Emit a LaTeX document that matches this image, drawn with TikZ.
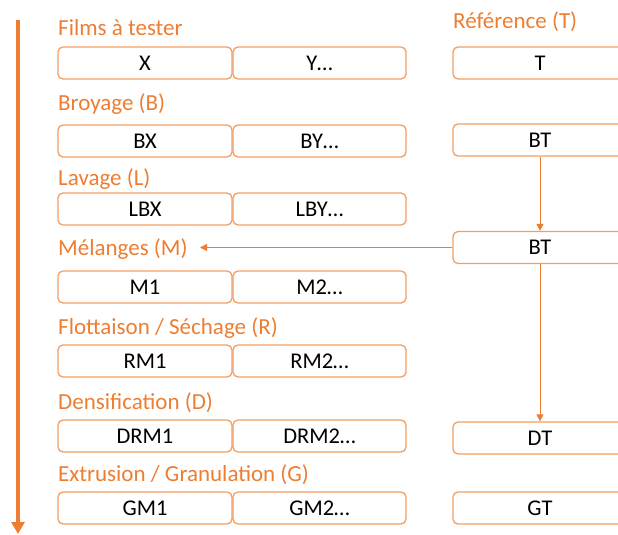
\documentclass[tikz,border=0pt]{standalone}
\usepackage{fontspec}
\setmainfont{Carlito}
\usetikzlibrary{arrows.meta}
\definecolor{org}{HTML}{ED7D31}
\definecolor{orgl}{HTML}{F29E63}
\tikzset{
  box/.style={draw=orgl, line width=1.3pt, rounded corners=5pt, minimum height=32pt, inner sep=0pt, font=\fontsize{22.5}{26}\selectfont, text=black},
  lbox/.style={box, minimum width=174pt},
  title/.style={anchor=base west, inner sep=0pt, text=org, font=\fontsize{23}{27}\selectfont},
  conn/.style={draw=org, line width=1pt, -{Triangle[width=7pt,length=7pt]}},
}
\begin{document}
\begin{tikzpicture}[x=1pt,y=-1pt]
\useasboundingbox (0,0) rectangle (618,535);
\begin{scope}
\clip (0,0) rectangle (618,535);
% main arrow
\coordinate (top) at (18,20);
\coordinate (bot) at (18,534);
\draw[draw=org, line width=4pt, -{Triangle[width=13pt,length=12pt]}] (top) -- (bot);

% titles
\node[title] (t1) at (58,36) {Films à tester};
\node[title] (tr) at (453,29) {Référence (T)};
\node[title] (t2) at (58,110) {Broyage (B)};
\node[title] (t3) at (58,185) {Lavage (L)};
\node[title] (t4) at (58,255) {Mélanges (M)};
\node[title] (t5) at (58,334) {Flottaison / Séchage (R)};
\node[title] (t6) at (58,409) {Densification (D)};
\node[title] (t7) at (58,481) {Extrusion / Granulation (G)};

% left boxes
\node[lbox] (x) at (145,63) {X};
\node[lbox, minimum width=173pt] (y) at (319.5,63) {Y…};
\node[lbox] (bx) at (145,141) {BX};
\node[lbox, minimum width=173pt] (by) at (319.5,141) {BY…};
\node[lbox] (lbx) at (145,209) {LBX};
\node[lbox, minimum width=173pt] (lby) at (319.5,209) {LBY…};
\node[lbox] (m1) at (145,287) {M1};
\node[lbox, minimum width=173pt] (m2) at (319.5,287) {M2…};
\node[lbox] (rm1) at (145,361) {RM1};
\node[lbox, minimum width=173pt] (rm2) at (319.5,361) {RM2…};
\node[lbox] (drm1) at (145,436) {DRM1};
\node[lbox, minimum width=173pt] (drm2) at (319.5,436) {DRM2…};
\node[lbox] (gm1) at (145,508) {GM1};
\node[lbox, minimum width=173pt] (gm2) at (319.5,508) {GM2…};

% right boxes
\node[lbox] (t) at (540,63) {T};
\node[lbox] (bt) at (540,140) {BT};
\node[lbox] (bt2) at (540,247.5) {BT};
\node[lbox] (dt) at (540,438) {DT};
\node[lbox] (gt) at (540,508) {GT};

% connectors
\coordinate (mtip) at (200,247.5);
\draw[conn] (bt) -- (bt2);
\draw[conn] (bt2.west) -- (mtip);
\draw[conn] (bt2) -- (dt);
\end{scope}
\end{tikzpicture}
\end{document}
